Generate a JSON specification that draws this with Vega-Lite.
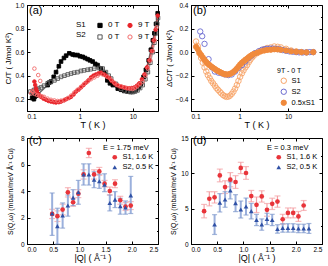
{
"$schema":"https://vega.github.io/schema/vega-lite/v6.json",
"padding":{"left":4,"top":1,"right":7,"bottom":0},
"background":"white",
"columns":2,
"spacing":{"row":27,"column":33},
"bounds":"flush",
"resolve":{"scale":{"color":"independent","shape":"independent","fill":"independent","size":"independent","x":"independent","y":"independent"},"legend":{"color":"independent","shape":"independent","fill":"independent","size":"independent"}},
"config":{
"font":"Liberation Sans",
"view":{"stroke":"black","strokeWidth":1},
"axis":{"grid":false,"domainColor":"black","tickColor":"black","labelColor":"black","titleColor":"black","labelFontSize":6.5,"titleFontSize":9,"titleFontWeight":"normal","tickSize":-3,"labelPadding":5,"titlePadding":1,"labelFont":"Liberation Sans","titleFont":"Liberation Sans"},
"axisY":{"titleFontSize":8,"labelPadding":6,"titlePadding":2},
"legend":{"labelFontSize":7.5,"titleFontSize":7.5,"titleFontWeight":"normal","labelFont":"Liberation Sans","titleFont":"Liberation Sans","symbolStrokeWidth":1,"padding":0,"labelColor":"black","titleColor":"black"},
"title":{"fontSize":11,"fontWeight":"normal","anchor":"start","color":"black","frame":"group"}
},
"concat":[
{
"width":131,"height":106,
"title":{"text":"(a)","offset":-14,"dx":2},
"data":{"values":[
{"T":0.125,"v":0.21,"s":"S1 0 T"},{"T":0.13,"v":0.24,"s":"S1 0 T"},{"T":0.135,"v":0.2,"s":"S1 0 T"},{"T":0.14,"v":0.22,"s":"S1 0 T"},{"T":0.145,"v":0.25,"s":"S1 0 T"},{"T":0.15,"v":0.23,"s":"S1 0 T"},{"T":0.16,"v":0.24,"s":"S1 0 T"},{"T":0.246,"v":0.32,"s":"S1 0 T"},{"T":0.26,"v":0.34,"s":"S1 0 T"},{"T":0.284,"v":0.35,"s":"S1 0 T"},{"T":0.32,"v":0.39,"s":"S1 0 T"},{"T":0.354,"v":0.43,"s":"S1 0 T"},{"T":0.4,"v":0.48,"s":"S1 0 T"},{"T":0.44,"v":0.52,"s":"S1 0 T"},{"T":0.5,"v":0.55,"s":"S1 0 T"},{"T":0.55,"v":0.57,"s":"S1 0 T"},{"T":0.63,"v":0.59,"s":"S1 0 T"},{"T":0.73,"v":0.58,"s":"S1 0 T"},{"T":0.8,"v":0.575,"s":"S1 0 T"},{"T":0.9,"v":0.575,"s":"S1 0 T"},{"T":1.0,"v":0.565,"s":"S1 0 T"},{"T":1.13,"v":0.56,"s":"S1 0 T"},{"T":1.25,"v":0.55,"s":"S1 0 T"},{"T":1.4,"v":0.54,"s":"S1 0 T"},{"T":1.55,"v":0.53,"s":"S1 0 T"},{"T":1.74,"v":0.52,"s":"S1 0 T"},{"T":1.95,"v":0.5,"s":"S1 0 T"},{"T":2.16,"v":0.49,"s":"S1 0 T"},{"T":2.5,"v":0.46,"s":"S1 0 T"},{"T":2.9,"v":0.42,"s":"S1 0 T"},{"T":3.3,"v":0.36,"s":"S1 0 T"},{"T":3.7,"v":0.335,"s":"S1 0 T"},{"T":4.2,"v":0.32,"s":"S1 0 T"},{"T":5.2,"v":0.29,"s":"S1 0 T"},{"T":6.0,"v":0.28,"s":"S1 0 T"},{"T":6.9,"v":0.27,"s":"S1 0 T"},{"T":8.0,"v":0.265,"s":"S1 0 T"},{"T":9.2,"v":0.265,"s":"S1 0 T"},{"T":10.3,"v":0.27,"s":"S1 0 T"},{"T":11.5,"v":0.28,"s":"S1 0 T"},{"T":12.8,"v":0.3,"s":"S1 0 T"},{"T":14.2,"v":0.33,"s":"S1 0 T"},{"T":16,"v":0.39,"s":"S1 0 T"},{"T":17.7,"v":0.45,"s":"S1 0 T"},{"T":20,"v":0.53,"s":"S1 0 T"},{"T":22,"v":0.62,"s":"S1 0 T"},{"T":24,"v":0.7,"s":"S1 0 T"},{"T":25.6,"v":0.76,"s":"S1 0 T"},{"T":27.5,"v":0.84,"s":"S1 0 T"},{"T":29.6,"v":0.93,"s":"S1 0 T"},
{"T":0.116,"v":0.265,"s":"S2 0 T"},{"T":0.125,"v":0.25,"s":"S2 0 T"},{"T":0.13,"v":0.27,"s":"S2 0 T"},{"T":0.138,"v":0.28,"s":"S2 0 T"},{"T":0.15,"v":0.285,"s":"S2 0 T"},{"T":0.165,"v":0.29,"s":"S2 0 T"},{"T":0.184,"v":0.3,"s":"S2 0 T"},{"T":0.21,"v":0.315,"s":"S2 0 T"},{"T":0.246,"v":0.335,"s":"S2 0 T"},{"T":0.28,"v":0.345,"s":"S2 0 T"},{"T":0.33,"v":0.36,"s":"S2 0 T"},{"T":0.38,"v":0.375,"s":"S2 0 T"},{"T":0.44,"v":0.39,"s":"S2 0 T"},{"T":0.51,"v":0.4,"s":"S2 0 T"},{"T":0.59,"v":0.41,"s":"S2 0 T"},{"T":0.68,"v":0.418,"s":"S2 0 T"},{"T":0.78,"v":0.425,"s":"S2 0 T"},{"T":0.9,"v":0.43,"s":"S2 0 T"},{"T":1.05,"v":0.44,"s":"S2 0 T"},{"T":1.2,"v":0.445,"s":"S2 0 T"},{"T":1.4,"v":0.45,"s":"S2 0 T"},{"T":1.6,"v":0.455,"s":"S2 0 T"},{"T":1.87,"v":0.46,"s":"S2 0 T"},{"T":2.3,"v":0.465,"s":"S2 0 T"},{"T":2.7,"v":0.46,"s":"S2 0 T"},{"T":3.1,"v":0.43,"s":"S2 0 T"},{"T":3.5,"v":0.4,"s":"S2 0 T"},{"T":3.9,"v":0.375,"s":"S2 0 T"},{"T":4.8,"v":0.33,"s":"S2 0 T"},{"T":6.0,"v":0.29,"s":"S2 0 T"},{"T":7.0,"v":0.275,"s":"S2 0 T"},{"T":8.0,"v":0.265,"s":"S2 0 T"},{"T":9.0,"v":0.26,"s":"S2 0 T"},{"T":10,"v":0.26,"s":"S2 0 T"},{"T":11,"v":0.265,"s":"S2 0 T"},{"T":12.3,"v":0.275,"s":"S2 0 T"},{"T":13.8,"v":0.295,"s":"S2 0 T"},{"T":15.4,"v":0.32,"s":"S2 0 T"},{"T":17.3,"v":0.37,"s":"S2 0 T"},{"T":19.3,"v":0.43,"s":"S2 0 T"},{"T":21.5,"v":0.51,"s":"S2 0 T"},{"T":23.8,"v":0.6,"s":"S2 0 T"},{"T":25.6,"v":0.68,"s":"S2 0 T"},{"T":27.5,"v":0.76,"s":"S2 0 T"},{"T":29,"v":0.84,"s":"S2 0 T"},{"T":30,"v":0.89,"s":"S2 0 T"},
{"T":0.138,"v":0.35,"s":"S1 9 T"},{"T":0.143,"v":0.32,"s":"S1 9 T"},{"T":0.148,"v":0.29,"s":"S1 9 T"},{"T":0.153,"v":0.27,"s":"S1 9 T"},{"T":0.159,"v":0.25,"s":"S1 9 T"},{"T":0.17,"v":0.235,"s":"S1 9 T"},{"T":0.184,"v":0.22,"s":"S1 9 T"},{"T":0.205,"v":0.205,"s":"S1 9 T"},{"T":0.229,"v":0.195,"s":"S1 9 T"},{"T":0.255,"v":0.185,"s":"S1 9 T"},{"T":0.284,"v":0.18,"s":"S1 9 T"},{"T":0.32,"v":0.175,"s":"S1 9 T"},{"T":0.354,"v":0.172,"s":"S1 9 T"},{"T":0.4,"v":0.175,"s":"S1 9 T"},{"T":0.44,"v":0.18,"s":"S1 9 T"},{"T":0.5,"v":0.19,"s":"S1 9 T"},{"T":0.55,"v":0.2,"s":"S1 9 T"},{"T":0.62,"v":0.21,"s":"S1 9 T"},{"T":0.68,"v":0.22,"s":"S1 9 T"},{"T":0.76,"v":0.24,"s":"S1 9 T"},{"T":0.84,"v":0.264,"s":"S1 9 T"},{"T":0.94,"v":0.28,"s":"S1 9 T"},{"T":1.05,"v":0.3,"s":"S1 9 T"},{"T":1.17,"v":0.32,"s":"S1 9 T"},{"T":1.3,"v":0.34,"s":"S1 9 T"},{"T":1.45,"v":0.36,"s":"S1 9 T"},{"T":1.62,"v":0.385,"s":"S1 9 T"},{"T":1.8,"v":0.4,"s":"S1 9 T"},{"T":2.0,"v":0.41,"s":"S1 9 T"},{"T":2.25,"v":0.42,"s":"S1 9 T"},{"T":2.5,"v":0.425,"s":"S1 9 T"},{"T":2.9,"v":0.41,"s":"S1 9 T"},{"T":3.2,"v":0.395,"s":"S1 9 T"},{"T":3.6,"v":0.38,"s":"S1 9 T"},{"T":4.0,"v":0.355,"s":"S1 9 T"},{"T":4.5,"v":0.335,"s":"S1 9 T"},{"T":5.0,"v":0.32,"s":"S1 9 T"},{"T":5.6,"v":0.31,"s":"S1 9 T"},{"T":6.2,"v":0.305,"s":"S1 9 T"},{"T":6.9,"v":0.3,"s":"S1 9 T"},{"T":7.7,"v":0.295,"s":"S1 9 T"},{"T":8.6,"v":0.293,"s":"S1 9 T"},{"T":9.6,"v":0.295,"s":"S1 9 T"},{"T":10.7,"v":0.3,"s":"S1 9 T"},{"T":12,"v":0.315,"s":"S1 9 T"},{"T":13.3,"v":0.335,"s":"S1 9 T"},{"T":14.9,"v":0.37,"s":"S1 9 T"},{"T":16.6,"v":0.41,"s":"S1 9 T"},{"T":18.5,"v":0.47,"s":"S1 9 T"},{"T":20.5,"v":0.53,"s":"S1 9 T"},{"T":22.6,"v":0.61,"s":"S1 9 T"},{"T":24.9,"v":0.7,"s":"S1 9 T"},{"T":27,"v":0.79,"s":"S1 9 T"},{"T":29.6,"v":0.91,"s":"S1 9 T"},
{"T":0.138,"v":0.46,"s":"S2 9 T"},{"T":0.163,"v":0.405,"s":"S2 9 T"},{"T":0.178,"v":0.355,"s":"S2 9 T"},{"T":0.12,"v":0.25,"s":"S2 9 T"},{"T":0.125,"v":0.27,"s":"S2 9 T"},{"T":0.13,"v":0.26,"s":"S2 9 T"},{"T":0.14,"v":0.245,"s":"S2 9 T"},{"T":0.155,"v":0.235,"s":"S2 9 T"},{"T":0.17,"v":0.23,"s":"S2 9 T"},{"T":0.19,"v":0.225,"s":"S2 9 T"},{"T":0.21,"v":0.22,"s":"S2 9 T"},{"T":0.245,"v":0.205,"s":"S2 9 T"},{"T":0.284,"v":0.195,"s":"S2 9 T"},{"T":0.33,"v":0.19,"s":"S2 9 T"},{"T":0.38,"v":0.185,"s":"S2 9 T"},{"T":0.44,"v":0.188,"s":"S2 9 T"},{"T":0.51,"v":0.195,"s":"S2 9 T"},{"T":0.59,"v":0.21,"s":"S2 9 T"},{"T":0.68,"v":0.23,"s":"S2 9 T"},{"T":0.78,"v":0.255,"s":"S2 9 T"},{"T":0.9,"v":0.28,"s":"S2 9 T"},{"T":1.05,"v":0.305,"s":"S2 9 T"},{"T":1.2,"v":0.33,"s":"S2 9 T"},{"T":1.4,"v":0.35,"s":"S2 9 T"},{"T":1.62,"v":0.37,"s":"S2 9 T"},{"T":1.87,"v":0.385,"s":"S2 9 T"},{"T":2.16,"v":0.4,"s":"S2 9 T"},{"T":2.7,"v":0.41,"s":"S2 9 T"},{"T":3.3,"v":0.39,"s":"S2 9 T"},{"T":3.9,"v":0.365,"s":"S2 9 T"},{"T":4.5,"v":0.34,"s":"S2 9 T"},{"T":5.2,"v":0.32,"s":"S2 9 T"},{"T":6.0,"v":0.31,"s":"S2 9 T"},{"T":7.0,"v":0.3,"s":"S2 9 T"},{"T":8.0,"v":0.293,"s":"S2 9 T"},{"T":9.0,"v":0.29,"s":"S2 9 T"},{"T":10,"v":0.287,"s":"S2 9 T"},{"T":11,"v":0.295,"s":"S2 9 T"},{"T":12.3,"v":0.31,"s":"S2 9 T"},{"T":13.8,"v":0.33,"s":"S2 9 T"},{"T":15.4,"v":0.35,"s":"S2 9 T"},{"T":17.3,"v":0.4,"s":"S2 9 T"},{"T":19.3,"v":0.46,"s":"S2 9 T"},{"T":21.5,"v":0.53,"s":"S2 9 T"},{"T":23.8,"v":0.61,"s":"S2 9 T"},{"T":26,"v":0.7,"s":"S2 9 T"},{"T":28.3,"v":0.81,"s":"S2 9 T"}
]},
"encoding":{
"x":{"field":"T","type":"quantitative","scale":{"type":"log","domain":[0.1,30],"nice":false},"axis":null},
"y":{"field":"v","type":"quantitative","scale":{"domain":[0.1,1.0],"nice":false,"zero":false},"axis":null}
},
"resolve":{"axis":{"x":"independent","y":"independent"}},
"layer":[
{"transform":[{"filter":"datum.s == 'S1 0 T'"}],"mark":{"type":"line","strokeWidth":1.5,"opacity":0.6,"color":"black"}},
{"transform":[{"filter":"datum.s == 'S2 0 T'"}],"mark":{"type":"line","strokeWidth":1.5,"opacity":0.6,"color":"#707070"}},
{"transform":[{"filter":"datum.s == 'S1 9 T'"}],"mark":{"type":"line","strokeWidth":1.5,"opacity":0.6,"color":"#e8242a"}},
{"transform":[{"filter":"datum.s == 'S2 9 T' && datum.T > 0.18"}],"mark":{"type":"line","strokeWidth":1.5,"opacity":0.6,"color":"#f07878"}},
{"mark":{"type":"point","size":13,"strokeWidth":0.9,"opacity":1},"encoding":{
"color":{"field":"s","type":"nominal","scale":{"domain":["S1 0 T","S2 0 T","S1 9 T","S2 9 T"],"range":["black","#555555","#e8242a","#f26b6b"]},"legend":{"orient":"none","legendX":49,"legendY":16,"columns":2,"title":["S1","S2"],"titleOrient":"left","titleAnchor":"start","titleBaseline":"top","titleLineHeight":10,"titlePadding":10,"labelExpr":"slice(datum.label,3)","symbolSize":18,"columnPadding":5,"rowPadding":2,"labelFontSize":8,"titleFontSize":8}},
"shape":{"field":"s","type":"nominal","scale":{"domain":["S1 0 T","S2 0 T","S1 9 T","S2 9 T"],"range":["square","square","circle","circle"]}},
"fill":{"field":"s","type":"nominal","scale":{"domain":["S1 0 T","S2 0 T","S1 9 T","S2 9 T"],"range":["black","transparent","#e8242a","transparent"]}}
}},
{"mark":{"type":"point","opacity":0},"encoding":{
"x":{"field":"T","type":"quantitative","scale":{"type":"log","domain":[0.1,30],"nice":false},"axis":{"values":[0.1,1,10],"format":"~g","title":"T ( K )"}},
"y":{"field":"v","type":"quantitative","scale":{"domain":[0.1,1.0],"nice":false,"zero":false},"axis":{"values":[0.2,0.4,0.6,0.8,1.0],"format":".1f","title":"C/T ( J/mol K²)"}}}},
{"mark":{"type":"point","opacity":0},"encoding":{
"x":{"field":"T","type":"quantitative","scale":{"type":"log","domain":[0.1,30],"nice":false},"axis":{"values":[0.2,0.3,0.4,0.5,0.6,0.7,0.8,0.9,2,3,4,5,6,7,8,9,20],"labels":false,"title":null,"domain":false,"tickSize":-1.5,"minExtent":0,"maxExtent":0}},
"y":{"field":"v","type":"quantitative","scale":{"domain":[0.1,1.0],"nice":false,"zero":false},"axis":{"values":[0.3,0.5,0.7,0.9],"labels":false,"title":null,"domain":false,"tickSize":-1.5,"minExtent":0,"maxExtent":0}}}},
{"mark":{"type":"point","opacity":0},"encoding":{
"x":{"field":"T","type":"quantitative","scale":{"type":"log","domain":[0.1,30],"nice":false},"axis":{"orient":"top","values":[0.1,1,10],"labels":false,"title":null,"domain":false,"minExtent":0,"maxExtent":0}},
"y":{"field":"v","type":"quantitative","scale":{"domain":[0.1,1.0],"nice":false,"zero":false},"axis":{"orient":"right","values":[0.2,0.4,0.6,0.8,1.0],"labels":false,"title":null,"domain":false,"minExtent":0,"maxExtent":0}}}},
{"mark":{"type":"point","opacity":0},"encoding":{
"x":{"field":"T","type":"quantitative","scale":{"type":"log","domain":[0.1,30],"nice":false},"axis":{"orient":"top","values":[0.2,0.3,0.4,0.5,0.6,0.7,0.8,0.9,2,3,4,5,6,7,8,9,20],"labels":false,"title":null,"domain":false,"tickSize":-1.5,"minExtent":0,"maxExtent":0}},
"y":{"field":"v","type":"quantitative","scale":{"domain":[0.1,1.0],"nice":false,"zero":false},"axis":{"orient":"right","values":[0.3,0.5,0.7,0.9],"labels":false,"title":null,"domain":false,"tickSize":-1.5,"minExtent":0,"maxExtent":0}}}}
]
},
{
"width":131,"height":106,
"title":{"text":"(b)","offset":-14,"dx":2},
"data":{"values":[
{"T":0.127,"v":0.09,"s":"S1"},{"T":0.138,"v":0.05,"s":"S1"},{"T":0.149,"v":-0.01,"s":"S1"},{"T":0.162,"v":-0.05,"s":"S1"},{"T":0.175,"v":-0.09,"s":"S1"},{"T":0.19,"v":-0.13,"s":"S1"},{"T":0.206,"v":-0.165,"s":"S1"},{"T":0.222,"v":-0.195,"s":"S1"},{"T":0.242,"v":-0.22,"s":"S1"},{"T":0.262,"v":-0.245,"s":"S1"},{"T":0.285,"v":-0.265,"s":"S1"},{"T":0.31,"v":-0.285,"s":"S1"},{"T":0.334,"v":-0.305,"s":"S1"},{"T":0.36,"v":-0.32,"s":"S1"},{"T":0.39,"v":-0.335,"s":"S1"},{"T":0.42,"v":-0.35,"s":"S1"},{"T":0.46,"v":-0.365,"s":"S1"},{"T":0.5,"v":-0.375,"s":"S1"},{"T":0.54,"v":-0.38,"s":"S1"},{"T":0.59,"v":-0.378,"s":"S1"},{"T":0.635,"v":-0.37,"s":"S1"},{"T":0.69,"v":-0.355,"s":"S1"},{"T":0.75,"v":-0.335,"s":"S1"},{"T":0.81,"v":-0.31,"s":"S1"},{"T":0.88,"v":-0.28,"s":"S1"},{"T":0.95,"v":-0.245,"s":"S1"},{"T":1.03,"v":-0.21,"s":"S1"},{"T":1.12,"v":-0.18,"s":"S1"},{"T":1.21,"v":-0.155,"s":"S1"},{"T":1.32,"v":-0.13,"s":"S1"},{"T":1.43,"v":-0.11,"s":"S1"},{"T":1.55,"v":-0.085,"s":"S1"},{"T":1.67,"v":-0.065,"s":"S1"},{"T":1.82,"v":-0.045,"s":"S1"},{"T":1.97,"v":-0.03,"s":"S1"},{"T":2.3,"v":-0.01,"s":"S1"},{"T":2.7,"v":0.01,"s":"S1"},{"T":3.2,"v":0.025,"s":"S1"},{"T":3.7,"v":0.035,"s":"S1"},{"T":4.4,"v":0.04,"s":"S1"},{"T":5.2,"v":0.048,"s":"S1"},{"T":6.1,"v":0.045,"s":"S1"},{"T":7.1,"v":0.04,"s":"S1"},{"T":9.1,"v":0.028,"s":"S1"},{"T":11.5,"v":0.014,"s":"S1"},{"T":14.7,"v":0.006,"s":"S1"},{"T":18.8,"v":0,"s":"S1"},{"T":24,"v":-0.003,"s":"S1"},{"T":33,"v":0,"s":"S1"},
{"T":0.155,"v":0.175,"s":"S2"},{"T":0.17,"v":0.135,"s":"S2"},{"T":0.19,"v":0.07,"s":"S2"},{"T":0.23,"v":-0.06,"s":"S2"},{"T":0.27,"v":-0.13,"s":"S2"},{"T":0.31,"v":-0.165,"s":"S2"},{"T":0.37,"v":-0.175,"s":"S2"},{"T":0.43,"v":-0.18,"s":"S2"},{"T":0.5,"v":-0.19,"s":"S2"},{"T":0.59,"v":-0.195,"s":"S2"},{"T":0.69,"v":-0.19,"s":"S2"},{"T":0.81,"v":-0.165,"s":"S2"},{"T":0.95,"v":-0.135,"s":"S2"},{"T":1.12,"v":-0.11,"s":"S2"},{"T":1.31,"v":-0.08,"s":"S2"},{"T":1.54,"v":-0.05,"s":"S2"},{"T":1.8,"v":-0.028,"s":"S2"},{"T":2.1,"v":-0.008,"s":"S2"},{"T":2.5,"v":0.008,"s":"S2"},{"T":2.9,"v":0.02,"s":"S2"},{"T":3.3,"v":0.025,"s":"S2"},{"T":3.7,"v":0.028,"s":"S2"},{"T":4.2,"v":0.03,"s":"S2"},{"T":4.8,"v":0.03,"s":"S2"},{"T":5.4,"v":0.028,"s":"S2"},{"T":6.1,"v":0.026,"s":"S2"},{"T":6.9,"v":0.022,"s":"S2"},{"T":7.8,"v":0.017,"s":"S2"},{"T":9.1,"v":0.011,"s":"S2"},{"T":10.7,"v":0.006,"s":"S2"},{"T":12.5,"v":0.003,"s":"S2"},{"T":14.7,"v":0,"s":"S2"},{"T":17,"v":-0.002,"s":"S2"},{"T":20,"v":-0.003,"s":"S2"},{"T":24,"v":-0.002,"s":"S2"},{"T":28,"v":0,"s":"S2"},{"T":33,"v":0,"s":"S2"},
{"T":0.127,"v":0.045,"s":"0.5xS1"},{"T":0.138,"v":0.025,"s":"0.5xS1"},{"T":0.149,"v":-0.005,"s":"0.5xS1"},{"T":0.162,"v":-0.025,"s":"0.5xS1"},{"T":0.175,"v":-0.045,"s":"0.5xS1"},{"T":0.19,"v":-0.065,"s":"0.5xS1"},{"T":0.206,"v":-0.083,"s":"0.5xS1"},{"T":0.222,"v":-0.098,"s":"0.5xS1"},{"T":0.242,"v":-0.11,"s":"0.5xS1"},{"T":0.262,"v":-0.123,"s":"0.5xS1"},{"T":0.285,"v":-0.133,"s":"0.5xS1"},{"T":0.31,"v":-0.143,"s":"0.5xS1"},{"T":0.334,"v":-0.153,"s":"0.5xS1"},{"T":0.36,"v":-0.16,"s":"0.5xS1"},{"T":0.39,"v":-0.168,"s":"0.5xS1"},{"T":0.42,"v":-0.175,"s":"0.5xS1"},{"T":0.46,"v":-0.183,"s":"0.5xS1"},{"T":0.5,"v":-0.188,"s":"0.5xS1"},{"T":0.54,"v":-0.19,"s":"0.5xS1"},{"T":0.59,"v":-0.189,"s":"0.5xS1"},{"T":0.635,"v":-0.185,"s":"0.5xS1"},{"T":0.69,"v":-0.178,"s":"0.5xS1"},{"T":0.75,"v":-0.168,"s":"0.5xS1"},{"T":0.81,"v":-0.155,"s":"0.5xS1"},{"T":0.88,"v":-0.14,"s":"0.5xS1"},{"T":0.95,"v":-0.123,"s":"0.5xS1"},{"T":1.03,"v":-0.105,"s":"0.5xS1"},{"T":1.12,"v":-0.09,"s":"0.5xS1"},{"T":1.21,"v":-0.078,"s":"0.5xS1"},{"T":1.32,"v":-0.065,"s":"0.5xS1"},{"T":1.43,"v":-0.055,"s":"0.5xS1"},{"T":1.55,"v":-0.043,"s":"0.5xS1"},{"T":1.67,"v":-0.033,"s":"0.5xS1"},{"T":1.82,"v":-0.023,"s":"0.5xS1"},{"T":1.97,"v":-0.015,"s":"0.5xS1"},{"T":2.3,"v":-0.005,"s":"0.5xS1"},{"T":2.7,"v":0.005,"s":"0.5xS1"},{"T":3.2,"v":0.013,"s":"0.5xS1"},{"T":3.7,"v":0.018,"s":"0.5xS1"},{"T":4.4,"v":0.02,"s":"0.5xS1"},{"T":5.2,"v":0.024,"s":"0.5xS1"},{"T":6.1,"v":0.023,"s":"0.5xS1"},{"T":7.1,"v":0.02,"s":"0.5xS1"},{"T":9.1,"v":0.014,"s":"0.5xS1"},{"T":11.5,"v":0.007,"s":"0.5xS1"},{"T":14.7,"v":0.003,"s":"0.5xS1"},{"T":18.8,"v":0,"s":"0.5xS1"},{"T":24,"v":-0.002,"s":"0.5xS1"},{"T":33,"v":0,"s":"0.5xS1"}
]},
"encoding":{
"x":{"field":"T","type":"quantitative","scale":{"type":"log","domain":[0.1,50],"nice":false},"axis":null},
"y":{"field":"v","type":"quantitative","scale":{"domain":[-0.5,0.4],"nice":false,"zero":false},"axis":null}
},
"resolve":{"axis":{"x":"independent","y":"independent"}},
"layer":[
{"transform":[{"filter":"datum.s == 'S1'"}],"mark":{"type":"line","strokeWidth":1.5,"opacity":0.6,"color":"#f7a468"}},
{"transform":[{"filter":"datum.s == '0.5xS1'"}],"mark":{"type":"line","strokeWidth":1.5,"opacity":0.7,"color":"#f08a3c"}},
{"transform":[{"filter":"datum.s == 'S2' && datum.T > 0.3"}],"mark":{"type":"line","strokeWidth":1.5,"opacity":0.7,"color":"#6a6ad0"}},
{"mark":{"type":"point","opacity":1,"strokeWidth":0.9},"encoding":{
"color":{"field":"s","type":"nominal","scale":{"domain":["S1","S2","0.5xS1"],"range":["#f7a468","#6a6ad0","#f08a3c"]},"legend":{"orient":"none","legendX":86,"legendY":62,"title":"9T - 0 T","symbolOffset":3,"rowPadding":1,"titlePadding":3,"labelFontSize":7.5,"titleFontSize":7}},
"fill":{"field":"s","type":"nominal","scale":{"domain":["S1","S2","0.5xS1"],"range":["transparent","transparent","#f08a3c"]}},
"size":{"field":"s","type":"nominal","scale":{"domain":["S1","S2","0.5xS1"],"range":[30,28,8]}}
}},
{"data":{"values":[{}]},"mark":{"type":"rule","color":"black","strokeWidth":1},"encoding":{"x":null,"y":{"datum":0,"type":"quantitative","axis":null}}},
{"mark":{"type":"point","opacity":0},"encoding":{
"x":{"field":"T","type":"quantitative","scale":{"type":"log","domain":[0.1,50],"nice":false},"axis":{"values":[0.1,1,10],"format":"~g","title":"T ( K )"}},
"y":{"field":"v","type":"quantitative","scale":{"domain":[-0.5,0.4],"nice":false,"zero":false},"axis":{"values":[-0.4,-0.2,0,0.2,0.4],"format":".1f","title":"ΔC/T ( J/mol K²)"}}}},
{"mark":{"type":"point","opacity":0},"encoding":{
"x":{"field":"T","type":"quantitative","scale":{"type":"log","domain":[0.1,50],"nice":false},"axis":{"values":[0.2,0.3,0.4,0.5,0.6,0.7,0.8,0.9,2,3,4,5,6,7,8,9,20,30,40],"labels":false,"title":null,"domain":false,"tickSize":-1.5,"minExtent":0,"maxExtent":0}},
"y":{"field":"v","type":"quantitative","scale":{"domain":[-0.5,0.4],"nice":false,"zero":false},"axis":{"values":[-0.3,-0.1,0.1,0.3],"labels":false,"title":null,"domain":false,"tickSize":-1.5,"minExtent":0,"maxExtent":0}}}},
{"mark":{"type":"point","opacity":0},"encoding":{
"x":{"field":"T","type":"quantitative","scale":{"type":"log","domain":[0.1,50],"nice":false},"axis":{"orient":"top","values":[0.1,1,10],"labels":false,"title":null,"domain":false,"minExtent":0,"maxExtent":0}},
"y":{"field":"v","type":"quantitative","scale":{"domain":[-0.5,0.4],"nice":false,"zero":false},"axis":{"orient":"right","values":[-0.4,-0.2,0,0.2,0.4],"labels":false,"title":null,"domain":false,"minExtent":0,"maxExtent":0}}}},
{"mark":{"type":"point","opacity":0},"encoding":{
"x":{"field":"T","type":"quantitative","scale":{"type":"log","domain":[0.1,50],"nice":false},"axis":{"orient":"top","values":[0.2,0.3,0.4,0.5,0.6,0.7,0.8,0.9,2,3,4,5,6,7,8,9,20,30,40],"labels":false,"title":null,"domain":false,"tickSize":-1.5,"minExtent":0,"maxExtent":0}},
"y":{"field":"v","type":"quantitative","scale":{"domain":[-0.5,0.4],"nice":false,"zero":false},"axis":{"orient":"right","values":[-0.3,-0.1,0.1,0.3],"labels":false,"title":null,"domain":false,"tickSize":-1.5,"minExtent":0,"maxExtent":0}}}}
]
},
{
"width":131,"height":106,
"title":{"text":"(c)","offset":-11,"dx":2},
"data":{"values":[
{"Q":0.48,"v":2.27,"lo":1.92,"hi":2.62,"s":"S1, 1.6 K"},{"Q":0.58,"v":2.1,"lo":1.7,"hi":2.5,"s":"S1, 1.6 K"},{"Q":0.68,"v":2.6,"lo":2.2,"hi":3.0,"s":"S1, 1.6 K"},{"Q":0.78,"v":3.9,"lo":3.55,"hi":4.25,"s":"S1, 1.6 K"},{"Q":0.88,"v":3.15,"lo":2.85,"hi":3.45,"s":"S1, 1.6 K"},{"Q":0.98,"v":3.8,"lo":3.5,"hi":4.1,"s":"S1, 1.6 K"},{"Q":1.08,"v":5.25,"lo":4.9,"hi":5.6,"s":"S1, 1.6 K"},{"Q":1.18,"v":6.87,"lo":6.52,"hi":7.22,"s":"S1, 1.6 K"},{"Q":1.28,"v":5.25,"lo":4.9,"hi":5.6,"s":"S1, 1.6 K"},{"Q":1.38,"v":5.48,"lo":5.18,"hi":5.78,"s":"S1, 1.6 K"},{"Q":1.48,"v":4.55,"lo":4.3,"hi":4.8,"s":"S1, 1.6 K"},{"Q":1.58,"v":4.0,"lo":3.7,"hi":4.3,"s":"S1, 1.6 K"},{"Q":1.68,"v":4.55,"lo":4.25,"hi":4.85,"s":"S1, 1.6 K"},{"Q":1.78,"v":3.3,"lo":3.0,"hi":3.6,"s":"S1, 1.6 K"},{"Q":1.88,"v":2.83,"lo":2.53,"hi":3.13,"s":"S1, 1.6 K"},{"Q":1.98,"v":2.9,"lo":2.6,"hi":3.2,"s":"S1, 1.6 K"},
{"Q":0.48,"v":2.3,"lo":0.65,"hi":3.85,"s":"S2, 0.5 K"},{"Q":0.58,"v":1.35,"lo":0,"hi":2.7,"s":"S2, 0.5 K"},{"Q":0.68,"v":2.15,"lo":1.2,"hi":3.1,"s":"S2, 0.5 K"},{"Q":0.78,"v":2.9,"lo":2.1,"hi":3.7,"s":"S2, 0.5 K"},{"Q":0.88,"v":3.5,"lo":2.9,"hi":4.1,"s":"S2, 0.5 K"},{"Q":0.98,"v":3.9,"lo":3.0,"hi":4.8,"s":"S2, 0.5 K"},{"Q":1.08,"v":5.25,"lo":4.45,"hi":6.05,"s":"S2, 0.5 K"},{"Q":1.18,"v":5.25,"lo":4.45,"hi":6.05,"s":"S2, 0.5 K"},{"Q":1.28,"v":4.85,"lo":4.25,"hi":5.45,"s":"S2, 0.5 K"},{"Q":1.38,"v":4.73,"lo":4.2,"hi":5.26,"s":"S2, 0.5 K"},{"Q":1.48,"v":4.47,"lo":3.95,"hi":5.3,"s":"S2, 0.5 K"},{"Q":1.58,"v":3.1,"lo":2.5,"hi":3.7,"s":"S2, 0.5 K"},{"Q":1.68,"v":3.35,"lo":2.75,"hi":3.95,"s":"S2, 0.5 K"},{"Q":1.78,"v":2.85,"lo":2.25,"hi":3.45,"s":"S2, 0.5 K"},{"Q":1.88,"v":2.75,"lo":2.25,"hi":3.25,"s":"S2, 0.5 K"},{"Q":1.98,"v":3.67,"lo":2.3,"hi":5.1,"s":"S2, 0.5 K"}
]},
"encoding":{"x":{"field":"Q","type":"quantitative","scale":{"domain":[0,2.5],"nice":false},"axis":null}},
"resolve":{"axis":{"x":"independent","y":"independent"}},
"layer":[
{"transform":[{"filter":"datum.s == 'S1, 1.6 K'"}],"mark":{"type":"rule","color":"#f4a0a4","strokeWidth":1.2},"encoding":{"y":{"field":"lo","type":"quantitative","scale":{"domain":[0,8],"nice":false},"axis":null},"y2":{"field":"hi"}}},
{"transform":[{"filter":"datum.s == 'S1, 1.6 K'"}],"mark":{"type":"tick","orient":"horizontal","color":"#f4a0a4","size":6,"thickness":1.2},"encoding":{"y":{"field":"lo","type":"quantitative","scale":{"domain":[0,8],"nice":false},"axis":null}}},
{"transform":[{"filter":"datum.s == 'S1, 1.6 K'"}],"mark":{"type":"tick","orient":"horizontal","color":"#f4a0a4","size":6,"thickness":1.2},"encoding":{"y":{"field":"hi","type":"quantitative","scale":{"domain":[0,8],"nice":false},"axis":null}}},
{"transform":[{"filter":"datum.s == 'S2, 0.5 K'"}],"mark":{"type":"rule","color":"#9bb0dc","strokeWidth":2},"encoding":{"y":{"field":"lo","type":"quantitative","scale":{"domain":[0,8],"nice":false},"axis":null},"y2":{"field":"hi"}}},
{"transform":[{"filter":"datum.s == 'S2, 0.5 K'"}],"mark":{"type":"tick","orient":"horizontal","color":"#7f98cc","size":5,"thickness":1.2},"encoding":{"y":{"field":"lo","type":"quantitative","scale":{"domain":[0,8],"nice":false},"axis":null}}},
{"transform":[{"filter":"datum.s == 'S2, 0.5 K'"}],"mark":{"type":"tick","orient":"horizontal","color":"#7f98cc","size":5,"thickness":1.2},"encoding":{"y":{"field":"hi","type":"quantitative","scale":{"domain":[0,8],"nice":false},"axis":null}}},
{"mark":{"type":"point","filled":true,"size":22,"opacity":1},"encoding":{
"y":{"field":"v","type":"quantitative","scale":{"domain":[0,8],"nice":false},"axis":null},
"color":{"field":"s","type":"nominal","scale":{"domain":["S1, 1.6 K","S2, 0.5 K"],"range":["#e8343a","#2f50a5"]},"legend":{"orient":"none","legendX":76,"legendY":6,"title":"E = 1.75 meV","symbolOffset":8,"rowPadding":1,"titlePadding":2,"symbolSize":22}},
"shape":{"field":"s","type":"nominal","scale":{"domain":["S1, 1.6 K","S2, 0.5 K"],"range":["circle","triangle-up"]}}
}},
{"mark":{"type":"point","opacity":0},"encoding":{
"x":{"field":"Q","type":"quantitative","scale":{"domain":[0,2.5],"nice":false},"axis":{"values":[0,0.5,1,1.5,2,2.5],"format":".1f","title":"|Q| ( Å⁻¹ )"}},
"y":{"field":"v","type":"quantitative","scale":{"domain":[0,8],"nice":false},"axis":{"values":[0,2,4,6,8],"title":"S(Q,ω) (mbarn/meV Å⁻¹ Cu)","titleFontSize":7,"titlePadding":7}}}},
{"mark":{"type":"point","opacity":0},"encoding":{
"x":{"field":"Q","type":"quantitative","scale":{"domain":[0,2.5],"nice":false},"axis":{"values":[0.25,0.75,1.25,1.75,2.25],"labels":false,"title":null,"domain":false,"tickSize":-1.5,"minExtent":0,"maxExtent":0}},
"y":{"field":"v","type":"quantitative","scale":{"domain":[0,8],"nice":false},"axis":{"values":[1,3,5,7],"labels":false,"title":null,"domain":false,"tickSize":-1.5,"minExtent":0,"maxExtent":0}}}},
{"mark":{"type":"point","opacity":0},"encoding":{
"x":{"field":"Q","type":"quantitative","scale":{"domain":[0,2.5],"nice":false},"axis":{"orient":"top","values":[0,0.5,1,1.5,2,2.5],"labels":false,"title":null,"domain":false,"minExtent":0,"maxExtent":0}},
"y":{"field":"v","type":"quantitative","scale":{"domain":[0,8],"nice":false},"axis":{"orient":"right","values":[0,2,4,6,8],"labels":false,"title":null,"domain":false,"minExtent":0,"maxExtent":0}}}},
{"mark":{"type":"point","opacity":0},"encoding":{
"x":{"field":"Q","type":"quantitative","scale":{"domain":[0,2.5],"nice":false},"axis":{"orient":"top","values":[0.25,0.75,1.25,1.75,2.25],"labels":false,"title":null,"domain":false,"tickSize":-1.5,"minExtent":0,"maxExtent":0}},
"y":{"field":"v","type":"quantitative","scale":{"domain":[0,8],"nice":false},"axis":{"orient":"right","values":[1,3,5,7],"labels":false,"title":null,"domain":false,"tickSize":-1.5,"minExtent":0,"maxExtent":0}}}}
]
},
{
"width":131,"height":106,
"title":{"text":"(d)","offset":-11,"dx":2},
"data":{"values":[
{"Q":0.25,"v":4.65,"lo":3.7,"hi":5.6,"s":"S1, 1.6 K"},{"Q":0.35,"v":6.4,"lo":5.4,"hi":7.4,"s":"S1, 1.6 K"},{"Q":0.45,"v":6.6,"lo":5.8,"hi":7.4,"s":"S1, 1.6 K"},{"Q":0.55,"v":9.7,"lo":8.8,"hi":10.6,"s":"S1, 1.6 K"},{"Q":0.65,"v":8.05,"lo":7.15,"hi":8.95,"s":"S1, 1.6 K"},{"Q":0.75,"v":9.1,"lo":8.1,"hi":10.1,"s":"S1, 1.6 K"},{"Q":0.85,"v":8.77,"lo":7.87,"hi":9.67,"s":"S1, 1.6 K"},{"Q":0.95,"v":10.76,"lo":9.96,"hi":11.56,"s":"S1, 1.6 K"},{"Q":1.05,"v":10.05,"lo":9.15,"hi":10.95,"s":"S1, 1.6 K"},{"Q":1.15,"v":6.78,"lo":5.98,"hi":7.58,"s":"S1, 1.6 K"},{"Q":1.25,"v":5.55,"lo":4.45,"hi":6.65,"s":"S1, 1.6 K"},{"Q":1.35,"v":6.73,"lo":5.93,"hi":7.53,"s":"S1, 1.6 K"},{"Q":1.45,"v":4.83,"lo":3.93,"hi":5.73,"s":"S1, 1.6 K"},{"Q":1.55,"v":5.68,"lo":4.88,"hi":6.48,"s":"S1, 1.6 K"},{"Q":1.65,"v":6.0,"lo":5.2,"hi":6.8,"s":"S1, 1.6 K"},{"Q":1.75,"v":3.5,"lo":2.8,"hi":4.2,"s":"S1, 1.6 K"},{"Q":1.85,"v":4.4,"lo":3.7,"hi":5.1,"s":"S1, 1.6 K"},{"Q":1.95,"v":4.4,"lo":3.7,"hi":5.1,"s":"S1, 1.6 K"},{"Q":2.05,"v":3.9,"lo":3.2,"hi":4.6,"s":"S1, 1.6 K"},{"Q":2.15,"v":5.45,"lo":4.75,"hi":6.15,"s":"S1, 1.6 K"},
{"Q":0.45,"v":2.75,"lo":1.35,"hi":4.15,"s":"S2, 0.5 K"},{"Q":0.55,"v":5.83,"lo":4.53,"hi":7.13,"s":"S2, 0.5 K"},{"Q":0.65,"v":6.3,"lo":5.2,"hi":7.4,"s":"S2, 0.5 K"},{"Q":0.75,"v":7.58,"lo":6.38,"hi":8.78,"s":"S2, 0.5 K"},{"Q":0.85,"v":5.78,"lo":4.58,"hi":6.98,"s":"S2, 0.5 K"},{"Q":0.95,"v":4.88,"lo":3.68,"hi":6.08,"s":"S2, 0.5 K"},{"Q":1.05,"v":5.3,"lo":4.1,"hi":6.5,"s":"S2, 0.5 K"},{"Q":1.15,"v":4.65,"lo":3.55,"hi":5.75,"s":"S2, 0.5 K"},{"Q":1.25,"v":3.4,"lo":2.6,"hi":4.2,"s":"S2, 0.5 K"},{"Q":1.35,"v":2.75,"lo":1.95,"hi":3.55,"s":"S2, 0.5 K"},{"Q":1.45,"v":3.55,"lo":2.75,"hi":4.35,"s":"S2, 0.5 K"},{"Q":1.55,"v":3.4,"lo":2.6,"hi":4.2,"s":"S2, 0.5 K"},{"Q":1.65,"v":2.13,"lo":1.53,"hi":2.73,"s":"S2, 0.5 K"},{"Q":1.75,"v":2.27,"lo":1.67,"hi":2.87,"s":"S2, 0.5 K"},{"Q":1.85,"v":2.27,"lo":1.67,"hi":2.87,"s":"S2, 0.5 K"},{"Q":1.95,"v":2.27,"lo":1.67,"hi":2.87,"s":"S2, 0.5 K"},{"Q":2.05,"v":2.2,"lo":1.6,"hi":2.8,"s":"S2, 0.5 K"},{"Q":2.15,"v":2.2,"lo":1.6,"hi":2.8,"s":"S2, 0.5 K"},{"Q":2.25,"v":2.2,"lo":1.5,"hi":2.9,"s":"S2, 0.5 K"}
]},
"encoding":{"x":{"field":"Q","type":"quantitative","scale":{"domain":[0,2.5],"nice":false},"axis":null}},
"resolve":{"axis":{"x":"independent","y":"independent"}},
"layer":[
{"transform":[{"filter":"datum.s == 'S1, 1.6 K'"}],"mark":{"type":"rule","color":"#f4a0a4","strokeWidth":1.2},"encoding":{"y":{"field":"lo","type":"quantitative","scale":{"domain":[0,15],"nice":false},"axis":null},"y2":{"field":"hi"}}},
{"transform":[{"filter":"datum.s == 'S1, 1.6 K'"}],"mark":{"type":"tick","orient":"horizontal","color":"#f4a0a4","size":6,"thickness":1.2},"encoding":{"y":{"field":"lo","type":"quantitative","scale":{"domain":[0,15],"nice":false},"axis":null}}},
{"transform":[{"filter":"datum.s == 'S1, 1.6 K'"}],"mark":{"type":"tick","orient":"horizontal","color":"#f4a0a4","size":6,"thickness":1.2},"encoding":{"y":{"field":"hi","type":"quantitative","scale":{"domain":[0,15],"nice":false},"axis":null}}},
{"transform":[{"filter":"datum.s == 'S2, 0.5 K'"}],"mark":{"type":"rule","color":"#9bb0dc","strokeWidth":2},"encoding":{"y":{"field":"lo","type":"quantitative","scale":{"domain":[0,15],"nice":false},"axis":null},"y2":{"field":"hi"}}},
{"transform":[{"filter":"datum.s == 'S2, 0.5 K'"}],"mark":{"type":"tick","orient":"horizontal","color":"#7f98cc","size":5,"thickness":1.2},"encoding":{"y":{"field":"lo","type":"quantitative","scale":{"domain":[0,15],"nice":false},"axis":null}}},
{"transform":[{"filter":"datum.s == 'S2, 0.5 K'"}],"mark":{"type":"tick","orient":"horizontal","color":"#7f98cc","size":5,"thickness":1.2},"encoding":{"y":{"field":"hi","type":"quantitative","scale":{"domain":[0,15],"nice":false},"axis":null}}},
{"mark":{"type":"point","filled":true,"size":22,"opacity":1},"encoding":{
"y":{"field":"v","type":"quantitative","scale":{"domain":[0,15],"nice":false},"axis":null},
"color":{"field":"s","type":"nominal","scale":{"domain":["S1, 1.6 K","S2, 0.5 K"],"range":["#e8343a","#2f50a5"]},"legend":{"orient":"none","legendX":76,"legendY":6,"title":"E = 0.3 meV","symbolOffset":8,"rowPadding":1,"titlePadding":2,"symbolSize":22}},
"shape":{"field":"s","type":"nominal","scale":{"domain":["S1, 1.6 K","S2, 0.5 K"],"range":["circle","triangle-up"]}}
}},
{"mark":{"type":"point","opacity":0},"encoding":{
"x":{"field":"Q","type":"quantitative","scale":{"domain":[0,2.5],"nice":false},"axis":{"values":[0,0.5,1,1.5,2,2.5],"format":".1f","title":"|Q| ( Å⁻¹ )"}},
"y":{"field":"v","type":"quantitative","scale":{"domain":[0,15],"nice":false},"axis":{"values":[0,5,10,15],"title":"S(Q,ω) (mbarn/meV Å⁻¹ Cu)","titleFontSize":7,"titlePadding":4}}}},
{"mark":{"type":"point","opacity":0},"encoding":{
"x":{"field":"Q","type":"quantitative","scale":{"domain":[0,2.5],"nice":false},"axis":{"values":[0.25,0.75,1.25,1.75,2.25],"labels":false,"title":null,"domain":false,"tickSize":-1.5,"minExtent":0,"maxExtent":0}},
"y":{"field":"v","type":"quantitative","scale":{"domain":[0,15],"nice":false},"axis":{"values":[2.5,7.5,12.5],"labels":false,"title":null,"domain":false,"tickSize":-1.5,"minExtent":0,"maxExtent":0}}}},
{"mark":{"type":"point","opacity":0},"encoding":{
"x":{"field":"Q","type":"quantitative","scale":{"domain":[0,2.5],"nice":false},"axis":{"orient":"top","values":[0,0.5,1,1.5,2,2.5],"labels":false,"title":null,"domain":false,"minExtent":0,"maxExtent":0}},
"y":{"field":"v","type":"quantitative","scale":{"domain":[0,15],"nice":false},"axis":{"orient":"right","values":[0,5,10,15],"labels":false,"title":null,"domain":false,"minExtent":0,"maxExtent":0}}}},
{"mark":{"type":"point","opacity":0},"encoding":{
"x":{"field":"Q","type":"quantitative","scale":{"domain":[0,2.5],"nice":false},"axis":{"orient":"top","values":[0.25,0.75,1.25,1.75,2.25],"labels":false,"title":null,"domain":false,"tickSize":-1.5,"minExtent":0,"maxExtent":0}},
"y":{"field":"v","type":"quantitative","scale":{"domain":[0,15],"nice":false},"axis":{"orient":"right","values":[2.5,7.5,12.5],"labels":false,"title":null,"domain":false,"tickSize":-1.5,"minExtent":0,"maxExtent":0}}}}
]
}
]
}
